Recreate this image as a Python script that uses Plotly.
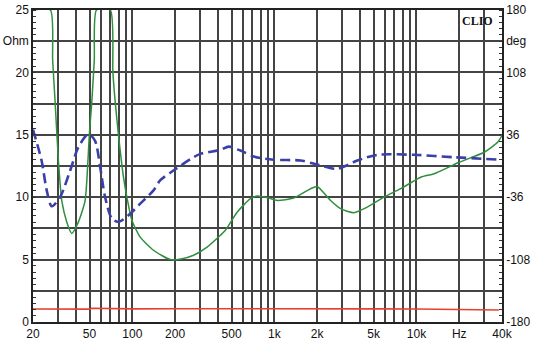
import plotly.graph_objects as go

# Impedance magnitude (Ohm) vs frequency (Hz)
imp_freq = [20, 26.5, 27.5, 28.6, 30.2, 31.9, 34.6, 37.5, 41.7, 46.5, 48.5, 49.9, 51.9, 54, 56,
            70, 73, 75.7, 79.9, 86.7, 91.6, 99.3, 113.7, 141, 185, 220, 270, 336, 417, 452, 547,
            678, 756, 900, 1047, 1370, 1797, 2000, 2486, 2924, 3630, 4500, 5908, 7746, 10720,
            13306, 19960, 29960, 37240, 40000]
imp_ohm = [25, 25, 21, 17.7, 12.9, 9.7, 8.0, 7.1, 8.0, 9.7, 12.5, 15.1, 17.7, 21, 25,
           25, 20, 17.7, 15, 11.6, 10, 8.15, 6.8, 5.75, 5.0, 5.05, 5.35, 6.0, 6.95, 7.35, 8.8,
           9.88, 10.09, 9.95, 9.74, 9.93, 10.68, 10.86, 9.74, 9.08, 8.76, 9.2, 10.0, 10.68, 11.6,
           11.88, 12.8, 13.6, 14.4, 14.94]

# Phase (deg) vs frequency (Hz)
ph_freq = [20, 23, 25, 27.1, 31, 36.5, 41.7, 49.1, 54.7, 59.4, 64.4, 71.8, 79.9, 94, 113.7,
           141, 157, 195, 270, 301, 417, 477, 577, 715, 990, 1528, 2000, 2772, 3836, 5308,
           9616, 18410, 37240]
ph_deg = [42, 6, -28.4, -46.5, -36, -5.4, 21.6, 37, 29, -1.4, -36, -60.7, -64.6, -56.9, -43.5,
          -28.2, -16.7, -5.2, 10.1, 14, 18.6, 22.4, 17.8, 10.9, 7.2, 6.3, 1.7, -3.2, 6.3, 12.9,
          12.9, 10.1, 7.5]

# Reference trace (Ohm)
ref_freq = [20, 40, 50, 52, 70, 100, 200, 500, 1000, 2000, 5000, 10000, 20000, 30000, 38000]
ref_ohm = [1.04, 1.04, 1.03, 1.1, 1.06, 1.05, 1.06, 1.04, 1.05, 1.04, 1.05, 1.04, 1.02, 0.99, 0.96]

x_grid = [20, 30, 40, 50, 60, 70, 80, 90, 100, 200, 300, 400, 500, 600, 700, 800, 900,
          1000, 2000, 3000, 4000, 5000, 6000, 7000, 8000, 9000, 10000, 20000, 30000, 40000]
x_labels = {20: "20", 50: "50", 100: "100", 200: "200", 500: "500", 1000: "1k", 2000: "2k",
            5000: "5k", 10000: "10k", 20000: "Hz", 40000: "40k"}
y_vals = [0, 2.5, 5, 7.5, 10, 12.5, 15, 17.5, 20, 22.5, 25]
y_text = ["0", "", "5", "", "10", "", "15", "", "20", "Ohm", "25"]
y2_vals = [-180, -144, -108, -72, -36, 0, 36, 72, 108, 144, 180]
y2_text = ["-180", "", "-108", "", "-36", "", "36", "", "108", "deg", "180"]

fig = go.Figure()
fig.add_trace(go.Scatter(x=ref_freq, y=ref_ohm, mode="lines",
                         line=dict(color="#e8402e", width=1.6), showlegend=False))
fig.add_trace(go.Scatter(x=imp_freq, y=imp_ohm, mode="lines",
                         line=dict(color="#2f8f3c", width=1.5, shape="spline", smoothing=0.6),
                         showlegend=False))
fig.add_trace(go.Scatter(x=ph_freq, y=ph_deg, mode="lines", yaxis="y2",
                         line=dict(color="#3a40a8", width=2.6, dash="10px,5px",
                                   shape="spline", smoothing=0.8),
                         showlegend=False))

grid_col = "#444444"
font = dict(family="Liberation Sans, Arial, sans-serif", size=12, color="#111")

fig.update_layout(
    width=534, height=351,
    margin=dict(l=33, r=32, t=10, b=29, autoexpand=False),
    paper_bgcolor="white", plot_bgcolor="white",
    font=font,
    xaxis=dict(type="log", range=[1.30103, 4.60206], automargin=False,
               tickmode="array", tickvals=x_grid,
               ticktext=[x_labels.get(v, "") for v in x_grid],
               showgrid=True, gridcolor=grid_col, gridwidth=1.5,
               showline=True, linecolor="#222", linewidth=1.5, mirror=True,
               ticks="", zeroline=False, tickfont=font),
    yaxis=dict(range=[0, 25], tickmode="array", tickvals=y_vals, ticktext=y_text,
               automargin=False,
               showgrid=True, gridcolor=grid_col, gridwidth=1.5,
               showline=True, linecolor="#222", linewidth=1.5,
               ticks="", zeroline=False, tickfont=font,
               minor=dict(ticks="inside", dtick=0.5, ticklen=3, tickcolor="#333",
                          tickwidth=1, showgrid=False)),
    yaxis2=dict(range=[-180, 180], overlaying="y", side="right", automargin=False,
                tickmode="array", tickvals=y2_vals, ticktext=y2_text,
                showgrid=False, showline=True, linecolor="#222", linewidth=1.5,
                ticks="", zeroline=False, tickfont=font,
                minor=dict(ticks="inside", dtick=7.2, ticklen=3, tickcolor="#333",
                           tickwidth=1, showgrid=False)),
    annotations=[dict(text="<b>CLIO</b>", xref="paper", yref="paper", x=0.985, y=0.995,
                      xanchor="right", yanchor="top", showarrow=False,
                      font=dict(family="Liberation Serif, DejaVu Serif, serif", size=12,
                                color="#111"))],
)

fig.write_html("out.html")
